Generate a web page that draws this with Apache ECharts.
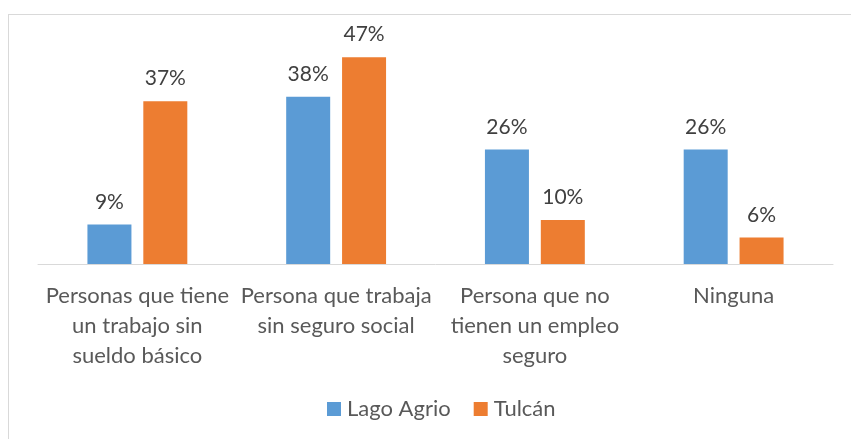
<!DOCTYPE html>
<html><head><meta charset="utf-8">
<script src="https://cdn.jsdelivr.net/npm/echarts@6/dist/echarts.min.js"></script>
<style>
html,body{margin:0;padding:0;background:#fff;overflow:hidden}
#frame{position:absolute;left:8px;top:14px;width:900px;height:500px;border:1px solid #d9d9d9;box-sizing:border-box}
#c{position:absolute;left:0;top:0;width:851px;height:439px}
</style></head>
<body>
<div id="frame"></div>
<div id="c"></div>
<script>
const categories = ['Personas que tiene\nun trabajo sin\nsueldo básico','Persona que trabaja\nsin seguro social','Persona que no\ntienen un empleo\nseguro','Ninguna'];
const lagoAgrio = [9, 38, 26, 26];
const tulcan = [37, 47, 10, 6];
const seriesNames = ['Lago Agrio', 'Tulcán'];

const FONT = 'Lato';
const chart = echarts.init(document.getElementById('c'), null, {renderer:'canvas'});
const labelStyle = {show:true, position:'top', distance:12, formatter:'{c}%', color:'#404040', fontSize:21, fontFamily:FONT};
chart.setOption({
  animation:false,
  grid:{left:38, right:18, top:44, bottom:175},
  legend:{bottom:14, left:322, itemWidth:14, itemHeight:14, itemGap:23, icon:'rect',
    textStyle:{fontSize:22, fontFamily:FONT, color:'#595959', padding:[0,0,0,1]}, data:seriesNames},
  xAxis:{type:'category', data:categories,
    axisLine:{lineStyle:{color:'#d9d9d9', width:1}}, axisTick:{show:false},
    axisLabel:{interval:0, fontSize:22, fontFamily:FONT, color:'#595959', lineHeight:30, margin:17}},
  yAxis:{type:'value', min:0, max:50, show:false, splitLine:{show:false}},
  series:[
    {name:seriesNames[0], type:'bar', data:lagoAgrio, barWidth:44, barGap:'27%', itemStyle:{color:'#5B9BD5'}, label:labelStyle},
    {name:seriesNames[1], type:'bar', data:tulcan, barWidth:44, barGap:'27%', itemStyle:{color:'#ED7D31'}, label:labelStyle}
  ]
});
</script>
</body></html>
